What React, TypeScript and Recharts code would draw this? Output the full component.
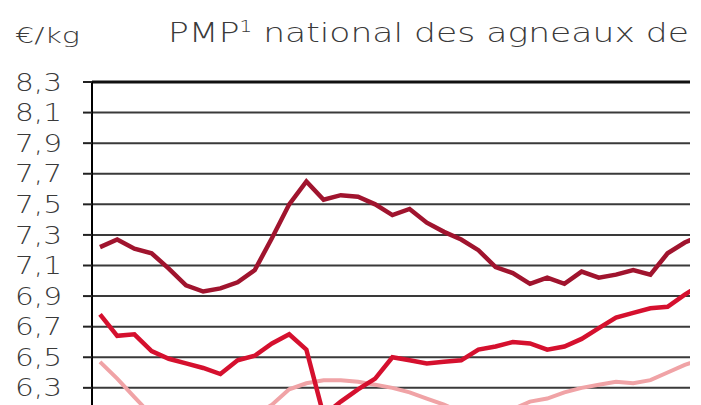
import { LineChart, Line, XAxis, YAxis, CartesianGrid, ReferenceLine } from 'recharts'

// semaines affichées (le graphique d'origine est rogné à droite et en bas)
const weeks = [
  'S1', 'S2', 'S3', 'S4', 'S5', 'S6', 'S7', 'S8', 'S9', 'S10', 'S11', 'S12',
  'S13', 'S14', 'S15', 'S16', 'S17', 'S18', 'S19', 'S20', 'S21', 'S22', 'S23', 'S24',
  'S25', 'S26', 'S27', 'S28', 'S29', 'S30', 'S31', 'S32', 'S33', 'S34', 'S35', 'S36',
]

const darkSeries = [
  7.22, 7.27, 7.21, 7.18, 7.08, 6.97, 6.93, 6.95, 6.99, 7.07, 7.28, 7.5,
  7.65, 7.53, 7.56, 7.55, 7.5, 7.43, 7.47, 7.38, 7.32, 7.27, 7.2, 7.09,
  7.05, 6.98, 7.02, 6.98, 7.06, 7.02, 7.04, 7.07, 7.04, 7.18, 7.25, 7.3,
]

const redSeries = [
  6.78, 6.64, 6.65, 6.54, 6.49, 6.46, 6.43, 6.39, 6.48, 6.51, 6.59, 6.65,
  6.55, 6.12, 6.21, 6.29, 6.36, 6.5, 6.48, 6.46, 6.47, 6.48, 6.55, 6.57,
  6.6, 6.59, 6.55, 6.57, 6.62, 6.69, 6.76, 6.79, 6.82, 6.83, 6.91, 6.98,
]

const pinkSeries = [
  6.47, 6.36, 6.24, 6.12, 6.05, 6.0, 5.98, 6.0, 6.05, 6.12, 6.19, 6.29,
  6.33, 6.35, 6.35, 6.34, 6.32, 6.3, 6.27, 6.23, 6.19, 6.14, 6.12, 6.13,
  6.16, 6.21, 6.23, 6.27, 6.3, 6.32, 6.34, 6.33, 6.35, 6.4, 6.45, 6.49,
]

const yTicks = [6.3, 6.5, 6.7, 6.9, 7.1, 7.3, 7.5, 7.7, 7.9, 8.1, 8.3]

const data = weeks.map((w, i) => ({
  week: w,
  dark: darkSeries[i],
  red: redSeries[i],
  pink: pinkSeries[i],
}))

const FONT = '"DejaVu Sans", "Open Sans", sans-serif'
const TXT = '#3a3a3a'
const fmt = (v: number) => v.toFixed(1).replace('.', ',')

const YTick = (props: any) => {
  const { x, y, payload } = props
  return (
    <text
      x={x}
      y={y}
      dy="0.36em"
      textAnchor="end"
      fontFamily={FONT}
      fontWeight={300}
      fontSize={24}
      fill={TXT}
      textLength={47}
      lengthAdjust="spacingAndGlyphs"
    >
      {fmt(payload.value)}
    </text>
  )
}

export default function App() {
  return (
    <div
      style={{
        position: 'absolute',
        left: 0,
        top: 0,
        width: 690,
        height: 405,
        overflow: 'hidden',
        background: '#fff',
      }}
    >
      <svg width={690} height={70} style={{ position: 'absolute', left: 0, top: 0 }}>
        <text x={15} y={43} fontFamily={FONT} fontWeight={300} fontSize={22} fill={TXT} textLength={65} lengthAdjust="spacingAndGlyphs">
          €/kg
        </text>
        <text x={168} y={42} fontFamily={FONT} fontWeight={300} fontSize={26} fill={TXT} textLength={521} lengthAdjust="spacingAndGlyphs">
          PMP
          <tspan fontSize={15} dy={-10}>1</tspan>
          <tspan dy={10}> national des agneaux de</tspan>
        </text>
      </svg>
      <div style={{ position: 'absolute', left: 0, top: 0 }}>
        <LineChart width={710} height={449} data={data} margin={{ top: 82, right: 0, bottom: 0, left: 0 }}>
          <CartesianGrid vertical={false} stroke="#3a3a3a" strokeWidth={2} />
          <XAxis dataKey="week" hide padding={{ left: 8, right: 8 }} />
          <YAxis
            width={92}
            domain={[5.9, 8.3]}
            ticks={yTicks}
            interval={0}
            allowDataOverflow
            axisLine={{ stroke: '#000', strokeWidth: 2 }}
            tickLine={{ stroke: '#222', strokeWidth: 2 }}
            tickSize={9}
            tickMargin={21}
            tick={<YTick />}
          />
          <ReferenceLine y={8.3} stroke="#111" strokeWidth={3} />
          <Line
            dataKey="pink"
            type="linear"
            stroke="#f0a3a6"
            strokeWidth={4}
            dot={false}
            isAnimationActive={false}
          />
          <Line
            dataKey="red"
            type="linear"
            stroke="#d5102e"
            strokeWidth={4.5}
            dot={false}
            isAnimationActive={false}
          />
          <Line
            dataKey="dark"
            type="linear"
            stroke="#a0142e"
            strokeWidth={4.5}
            dot={false}
            isAnimationActive={false}
          />
        </LineChart>
      </div>
    </div>
  )
}
